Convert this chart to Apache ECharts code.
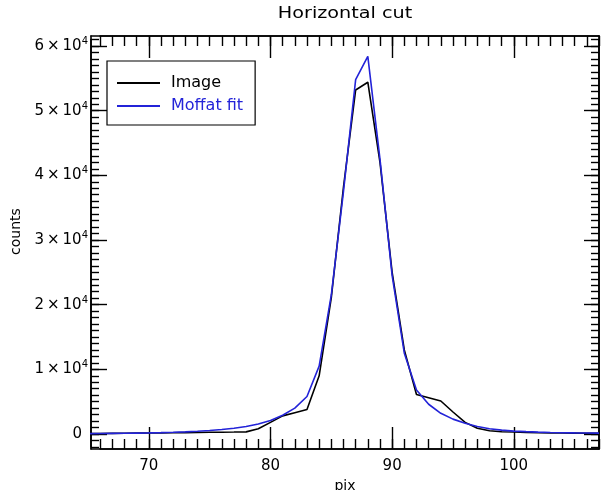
<!DOCTYPE html>
<html>
<head>
<meta charset="utf-8">
<script src="https://cdn.jsdelivr.net/npm/echarts@6/dist/echarts.min.js"></script>
<style>
  html, body { margin: 0; padding: 0; background: #fff; }
  #chart { width: 603px; height: 490px; }
</style>
</head>
<body>
<div id="chart"></div>
<script>
// Pixel positions along the horizontal cut
const pix = [65, 66, 67, 68, 69, 70, 71, 72, 73, 74, 75, 76, 77, 78, 79, 80, 81, 82, 83, 84, 85, 86,
             87, 88, 89, 90, 91, 92, 93, 94, 95, 96, 97, 98, 99, 100, 101, 102, 103, 104, 105, 106, 107];

// Measured counts in the image row
const imageCounts = [60, 80, 100, 120, 140, 160, 180, 200, 220, 240, 260, 280, 300, 330, 800, 1800, 2800, 3300, 3800, 9000, 21100, 38200,
                     53200, 54400, 42000, 25000, 13000, 6100, 5600, 5100, 3400, 1800, 900, 500, 350, 300, 250, 200, 180, 150, 130, 110, 100];

// Moffat profile fitted to the same row
const moffatCounts = [60, 70, 90, 110, 140, 170, 210, 260, 330, 420, 540, 700, 900, 1150, 1550, 2100, 2900, 4000, 5800, 10500, 21500, 37500,
                      54800, 58400, 42500, 24500, 12500, 6800, 4600, 3200, 2300, 1650, 1150, 800, 600, 450, 360, 290, 240, 200, 170, 150, 130];

// Axis ranges and tick positions
const xRange = [65.25, 107];
const yRange = [-2320, 61550];
const xMajorTicks = [70, 80, 90, 100];
const yMajorTicks = [0, 10000, 20000, 30000, 40000, 50000, 60000];
const xMinorStep = 1;
const yMinorStep = 1000;

const FONT = 'DejaVu Sans';
const BLUE = '#2323d8';
const toPairs = (ys) => pix.map((x, i) => [x, ys[i]]);

// Plot rectangle (pixels)
const PLOT = { left: 91, top: 36, right: 4, bottom: 41 };
const plotWidth = 603 - PLOT.left - PLOT.right;
const plotHeight = 490 - PLOT.top - PLOT.bottom;

// Minor-tick axes run between whole multiples of their step, so their grid is
// trimmed to the matching pixel span inside the plot rectangle.
const xMinorMin = Math.ceil(xRange[0] / xMinorStep) * xMinorStep;
const xMinorMax = Math.floor(xRange[1] / xMinorStep) * xMinorStep;
const yMinorMin = Math.ceil(yRange[0] / yMinorStep) * yMinorStep;
const yMinorMax = Math.floor(yRange[1] / yMinorStep) * yMinorStep;
const pxPerX = plotWidth / (xRange[1] - xRange[0]);
const pxPerY = plotHeight / (yRange[1] - yRange[0]);

function gridAt(rect) {
  return Object.assign({ containLabel: false, outerBoundsMode: 'none' }, rect);
}
// grid 1: x minor ticks (same height as the plot, trimmed horizontally)
const xMinorRect = {
  left: PLOT.left + (xMinorMin - xRange[0]) * pxPerX,
  right: PLOT.right + (xRange[1] - xMinorMax) * pxPerX,
  top: PLOT.top,
  bottom: PLOT.bottom
};
// grid 2: y minor ticks (same width as the plot, trimmed vertically)
const yMinorRect = {
  left: PLOT.left,
  right: PLOT.right,
  top: PLOT.top + (yRange[1] - yMinorMax) * pxPerY,
  bottom: PLOT.bottom + (yMinorMin - yRange[0]) * pxPerY
};

const LINE = { show: true, onZero: false, lineStyle: { color: '#000', width: 1.6 } };
const TICK_STYLE = { color: '#000', width: 1.4 };

function majorAxis(kind, position, ticks, len) {
  return {
    type: 'value',
    gridIndex: 0,
    position: position,
    min: kind === 'x' ? xRange[0] : yRange[0],
    max: kind === 'x' ? xRange[1] : yRange[1],
    splitLine: { show: false },
    axisLine: LINE,
    axisTick: { show: true, inside: true, length: len, customValues: ticks, lineStyle: TICK_STYLE },
    axisLabel: { show: false }
  };
}

function minorAxis(kind, gridIndex, position, len) {
  return {
    type: 'value',
    gridIndex: gridIndex,
    position: position,
    min: kind === 'x' ? xMinorMin : yMinorMin,
    max: kind === 'x' ? xMinorMax : yMinorMax,
    interval: kind === 'x' ? xMinorStep : yMinorStep,
    splitLine: { show: false },
    axisLine: { show: true, onZero: false, lineStyle: { color: '#000', width: 1.6 } },
    axisTick: { show: true, inside: true, length: len, lineStyle: TICK_STYLE },
    axisLabel: { show: false }
  };
}

function hiddenAxis(kind, gridIndex) {
  return {
    type: 'value',
    gridIndex: gridIndex,
    show: false,
    min: kind === 'x' ? xRange[0] : yRange[0],
    max: kind === 'x' ? xRange[1] : yRange[1],
    splitLine: { show: false }
  };
}

const xMain = majorAxis('x', 'bottom', xMajorTicks, 22);
xMain.axisLabel = { show: true, customValues: xMajorTicks, margin: 10, color: '#000', fontFamily: FONT, fontSize: 15 };
xMain.name = 'pix';
xMain.nameLocation = 'middle';
xMain.nameGap = 22;
xMain.nameTextStyle = { color: '#000', fontFamily: FONT, fontSize: 14 };

const yMain = majorAxis('y', 'left', yMajorTicks, 16);
yMain.axisLabel = {
  show: true,
  customValues: yMajorTicks,
  margin: 3,
  formatter: function (v) {
    if (v === 0) return '{z|0}';
    return '{m|' + (v / 10000) + '\u2009×\u200910}{e|4}';
  },
  rich: {
    z: { fontFamily: FONT, fontSize: 15, color: '#000', padding: [0, 6, 0, 0] },
    m: { fontFamily: FONT, fontSize: 15, color: '#000' },
    e: { fontFamily: FONT, fontSize: 10, color: '#000', padding: [0, 0, 9, 0] }
  }
};
yMain.name = 'counts';
yMain.nameLocation = 'middle';
yMain.nameGap = 67;
yMain.nameTextStyle = { color: '#000', fontFamily: FONT, fontSize: 14, padding: [0, 0, 0, 22] };

const option = {
  animation: false,
  backgroundColor: '#fff',
  graphic: [
    {
      type: 'text',
      x: 345,
      y: 14,
      scaleX: 1.28,
      style: {
        text: 'Horizontal cut',
        fill: '#000',
        font: '15px "DejaVu Sans"',
        textAlign: 'center',
        textVerticalAlign: 'middle'
      }
    }
  ],
  grid: [gridAt(PLOT), gridAt(xMinorRect), gridAt(yMinorRect)],
  legend: {
    orient: 'vertical',
    left: 107,
    top: 61,
    padding: [14, 12, 11, 10],
    itemGap: 7,
    itemWidth: 43,
    itemHeight: 2,
    icon: 'rect',
    borderColor: '#000',
    borderWidth: 1.2,
    backgroundColor: '#fff',
    textStyle: { fontFamily: FONT, fontSize: 16, padding: [0, 0, 0, 6] },
    data: [
      { name: 'Image', textStyle: { color: '#000' } },
      { name: 'Moffat fit', textStyle: { color: BLUE } }
    ]
  },
  xAxis: [
    xMain,
    majorAxis('x', 'top', xMajorTicks, 22),
    minorAxis('x', 1, 'bottom', 10),
    minorAxis('x', 1, 'top', 10),
    hiddenAxis('x', 2)
  ],
  yAxis: [
    yMain,
    majorAxis('y', 'right', yMajorTicks, 15),
    hiddenAxis('y', 1),
    minorAxis('y', 2, 'left', 8),
    minorAxis('y', 2, 'right', 8)
  ],
  series: [
    {
      name: 'Image',
      type: 'line',
      xAxisIndex: 0,
      yAxisIndex: 0,
      data: toPairs(imageCounts),
      showSymbol: false,
      clip: true,
      color: '#000',
      lineStyle: { color: '#000', width: 1.6 }
    },
    {
      name: 'Moffat fit',
      type: 'line',
      xAxisIndex: 0,
      yAxisIndex: 0,
      data: toPairs(moffatCounts),
      showSymbol: false,
      clip: true,
      color: BLUE,
      lineStyle: { color: BLUE, width: 1.6 }
    }
  ]
};

const chart = echarts.init(document.getElementById('chart'), null, { renderer: 'canvas' });
chart.setOption(option);
</script>
</body>
</html>
